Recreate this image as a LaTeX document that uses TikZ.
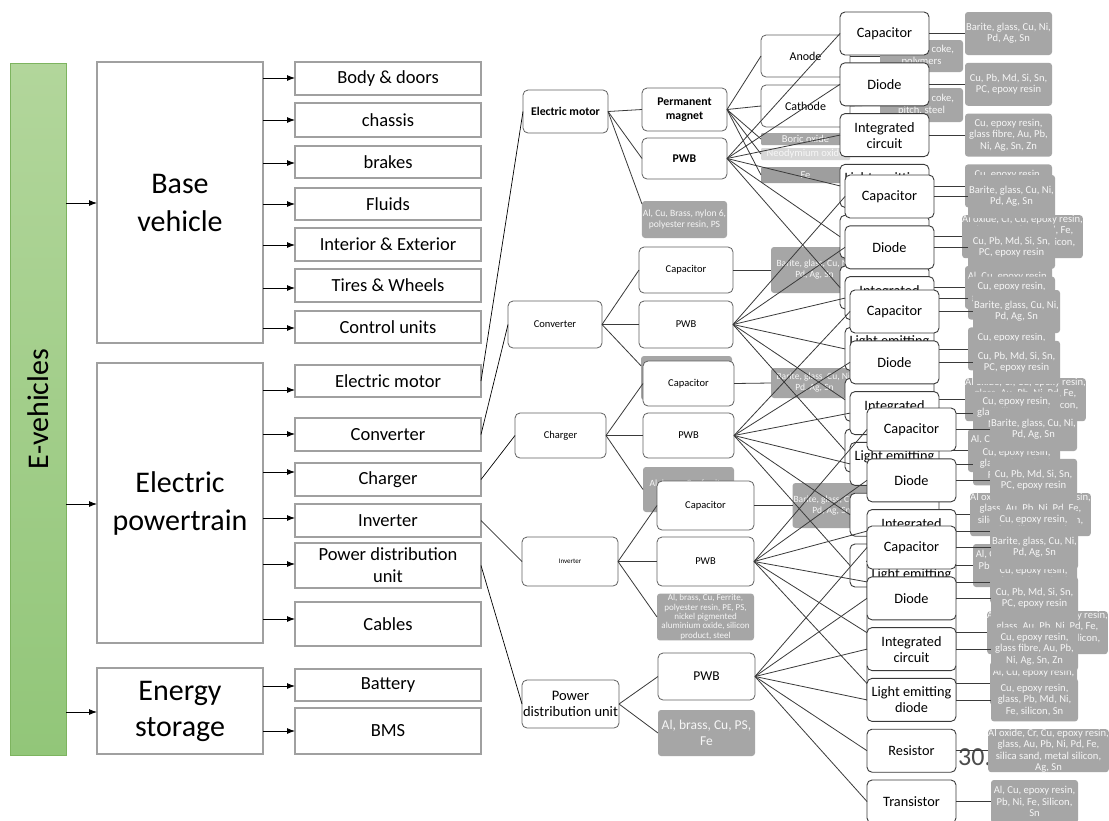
\documentclass[tikz,border=0pt]{standalone}
\usepackage{fontspec}
\setmainfont{Carlito}
\usetikzlibrary{arrows.meta}
\definecolor{bgray}{HTML}{A0A0A0}
\definecolor{mgray}{HTML}{A6A6A6}
\definecolor{ltxt}{HTML}{F6F6F6}
\definecolor{lnc}{HTML}{3A3A3A}
\definecolor{gtop}{HTML}{B2D69B}
\definecolor{gbot}{HTML}{92C679}
\definecolor{gedge}{HTML}{7DB45F}
\tikzset{
 lbox/.style={draw=bgray,line width=1.4pt,fill=white,inner sep=1pt,outer sep=0pt,align=center},
 arr/.style={-{Latex[length=8pt,width=6pt]},line width=0.9pt,black},
 rbox/.style={draw=lnc!80,line width=0.8pt,fill=white,rounded corners=5pt,inner sep=1pt,outer sep=0pt,align=center},
 gbox/.style={fill=mgray,rounded corners=3pt,inner sep=1pt,outer sep=0pt,align=center,text=ltxt},
 comp/.style={draw=lnc,line width=0.9pt,fill=white,rounded corners=5pt,inner sep=1pt,outer sep=0pt,align=center,
   minimum width=89pt,minimum height=43pt,font=\fontsize{14.3}{16}\selectfont},
 mat/.style={fill=mgray,rounded corners=3pt,inner sep=0pt,outer sep=0pt,align=center,text=ltxt,
   minimum height=43pt,font=\fontsize{10.6}{11.2}\selectfont},
 sline/.style={draw=lnc,line width=0.8pt},
 cline/.style={draw=black,line width=0.7pt},
}
\newcommand\mybox[7]{%
 \pgfmathsetmacro\bxw{#5-#3}\pgfmathsetmacro\bxh{#6-#4}%
 \pgfmathsetmacro\bxcx{(#3+#5)/2}\pgfmathsetmacro\bxcy{(#4+#6)/2}%
 \node[#1,minimum width=\bxw pt,minimum height=\bxh pt] (#2) at (\bxcx,\bxcy) {#7};}
\newcommand\compstack[5]{%
 \foreach \i/\c/\m/\w in {0/Capacitor/{Barite, glass, Cu, Ni,\\Pd, Ag, Sn}/87,
   1/Diode/{Cu, Pb, Md, Si, Sn,\\PC, epoxy resin}/87,
   2/{Integrated\\circuit}/{Cu, epoxy resin,\\glass fibre, Au, Pb,\\Ni, Ag, Sn, Zn}/87,
   3/{Light emitting\\diode}/{Cu, epoxy resin,\\glass, Pb, Md, Ni,\\Fe, silicon, Sn}/87,
   4/Resistor/{Al oxide, Cr, Cu, epoxy resin,\\glass, Au, Pb, Ni, Pd, Fe,\\silica sand, metal silicon,\\Ag, Sn}/115,
   5/Transistor/{Al, Cu, epoxy resin,\\Pb, Ni, Fe, Silicon,\\Sn}/87}{%
  \pgfmathsetmacro\cy{#3+21.5+\i*50.8}%
  \pgfmathsetmacro\cx{#2+44.5}%
  \pgfmathsetmacro\mx{#4+\w/2}%
  \node[comp] (#1c\i) at (\cx,\cy) {\c};
  \node[mat,minimum width=\w pt] (#1m\i) at (\mx,\cy) {\m};
  \draw[sline] (#1c\i.east) -- (#1m\i.west);
  \draw[sline] (#5.east) -- (#1c\i.west);
 }}
\begin{document}
\begin{tikzpicture}[x=1pt,y=-1pt]
\useasboundingbox (0,0) rectangle (1109,820);
\clip (0,0) rectangle (1109,820);
\fill[white] (0,0) rectangle (1109,820);

% ---------- left part ----------
\mybox{top color=gtop,bottom color=gbot,draw=gedge,line width=0.6pt,outer sep=0pt,inner sep=0pt}{ev}{10}{63}{66}{755}{}
\node[rotate=90,font=\fontsize{30}{32}\selectfont] (evt) at (ev.center) {E-vehicles};

\mybox{lbox,font=\fontsize{30}{38}\selectfont}{bv}{97}{62}{263}{343}{Base\\vehicle}
\mybox{lbox,font=\fontsize{30}{38}\selectfont}{ep}{97}{363}{263}{643}{Electric\\powertrain}
\mybox{lbox,font=\fontsize{30}{36}\selectfont}{es}{97}{668}{263}{754}{Energy\\storage}

\begin{scope}[every node/.append style={font=\fontsize{18.5}{22}\selectfont}]
\mybox{lbox}{bd}{295}{62}{481}{95}{Body \& doors}
\mybox{lbox}{chs}{295}{103}{481}{137}{chassis}
\mybox{lbox}{brk}{295}{146}{481}{178}{brakes}
\mybox{lbox}{fld}{295}{188}{481}{220}{Fluids}
\mybox{lbox}{ie}{295}{228}{481}{261}{Interior \& Exterior}
\mybox{lbox}{tw}{295}{269}{481}{302}{Tires \& Wheels}
\mybox{lbox}{cu}{295}{311}{481}{343}{Control units}
\mybox{lbox}{em}{295}{365}{481}{397}{Electric motor}
\mybox{lbox}{cv}{295}{418}{481}{451}{Converter}
\mybox{lbox}{cg}{295}{463}{481}{496}{Charger}
\mybox{lbox}{iv}{295}{504}{481}{537}{Inverter}
\mybox{lbox}{pd}{295}{543}{481}{588}{Power distribution\\unit}
\mybox{lbox}{cb}{295}{602}{481}{646}{Cables}
\mybox{lbox}{bt}{295}{669}{481}{701}{Battery}
\mybox{lbox}{bm}{295}{708}{481}{754}{BMS}
\end{scope}

\draw[arr] (ev.east|-0,203) -- (bv.west|-0,203);
\draw[arr] (ev.east|-0,504) -- (ep.west|-0,504);
\draw[arr] (ev.east|-0,712) -- (es.west|-0,712);
\foreach \n/\y in {bd/78,chs/120,brk/163,fld/204,ie/245,tw/288,cu/328}
  \draw[arr] (bv.east|-0,\y) -- (\n.west|-0,\y);
\foreach \n/\y in {em/390,cv/434,cg/472,iv/518,pd/564,cb/619}
  \draw[arr] (ep.east|-0,\y) -- (\n.west|-0,\y);
\foreach \n/\y in {bt/686,bm/731}
  \draw[arr] (es.east|-0,\y) -- (\n.west|-0,\y);

% ---------- second level ----------
\begin{scope}[every node/.append style={font=\fontsize{11.8}{14}\selectfont\bfseries}]
\mybox{rbox}{mo}{523}{90}{608}{133}{Electric motor}
\mybox{rbox}{pm}{642}{88}{727}{131}{Permanent\\magnet}
\mybox{rbox}{mp}{642}{138}{727}{179}{PWB}
\end{scope}
\mybox{gbox,font=\fontsize{9.6}{11}\selectfont}{mg}{642}{201}{727}{238}{Al, Cu, Brass, nylon 6,\\polyester resin, PS}

\mybox{rbox,font=\fontsize{12}{14}\selectfont}{an}{761}{35}{850}{77}{Anode}
\mybox{rbox,font=\fontsize{12}{14}\selectfont}{ca}{761}{85}{850}{127}{Cathode}
\mybox{gbox,font=\fontsize{10.5}{11}\selectfont,rounded corners=1pt}{bo}{761}{133}{850}{145}{Boric oxide}
\mybox{gbox,fill=mgray!45,font=\fontsize{10.5}{11}\selectfont,rounded corners=1pt}{nd}{761}{148}{850}{160}{Neodymium oxide}
\mybox{gbox,fill=mgray!95!black,font=\fontsize{10.5}{11}\selectfont,rounded corners=1pt}{fe}{761}{167}{850}{183}{Fe}
\mybox{gbox,font=\fontsize{10.6}{12}\selectfont}{anm}{880}{40}{963}{72}{Graphite, coke,\\polymers}
\mybox{gbox,font=\fontsize{10.6}{12}\selectfont}{cam}{880}{88}{963}{122}{Graphite, coke,\\pitch, steel}
\draw[sline] (an.east) -- (anm.west);
\draw[sline] (ca.east) -- (cam.west);

\draw[cline] (em.east) -- (mo.west);
\draw[sline] (mo.east) -- (pm.west);
\draw[sline] (mo.east) -- (mp.west);
\draw[sline] (mo.east) -- (mg.160);
\foreach \n in {an,ca,bo,nd,fe} \draw[sline] (pm.east) -- (\n.west);

\begin{scope}[every node/.append style={font=\fontsize{10.5}{12}\selectfont}]
\mybox{rbox}{cv2}{508}{301}{602}{348}{Converter}
\mybox{rbox}{cvc}{639}{247}{733}{293}{Capacitor}
\mybox{rbox}{cvp}{639}{301}{733}{348}{PWB}
\mybox{gbox}{cvg}{641}{356}{732}{400}{}
\mybox{gbox,font=\fontsize{9.5}{11}\selectfont}{cvm}{771}{247}{858}{293}{Barite, glass, Cu, Ni,\\Pd, Ag, Sn}
\mybox{rbox}{cg2}{515}{413}{606}{458}{Charger}
\mybox{rbox}{cgp}{643}{413}{734}{458}{PWB}
\mybox{rbox}{cgc}{643}{361}{734}{406}{Capacitor}
\mybox{gbox,font=\fontsize{9.5}{11}\selectfont}{cgm}{771}{368}{858}{398}{Barite, glass, Cu, Ni,\\Pd, Ag, Sn}
\mybox{gbox,font=\fontsize{9.5}{11}\selectfont}{cgg}{643}{467}{734}{512}{Al, brass, Cu, ferrite,\\polyester resin}
\mybox{rbox,font=\fontsize{7}{8}\selectfont}{iv2}{522}{537}{618}{586}{Inverter}
\mybox{rbox}{ivc}{657}{481}{754}{530}{Capacitor}
\mybox{rbox}{ivp}{657}{537}{754}{586}{PWB}
\mybox{gbox,font=\fontsize{9}{9.3}\selectfont}{ivg}{657}{594}{754}{640}{Al, brass, Cu, Ferrite,\\polyester resin, PE, PS,\\nickel pigmented\\aluminium oxide, silicon\\product, steel}
\mybox{gbox,font=\fontsize{9.5}{11}\selectfont}{ivm}{793}{483}{870}{528}{Barite, glass, Cu, Ni,\\Pd, Ag, Sn}
\end{scope}
\mybox{rbox,font=\fontsize{14.5}{16}\selectfont}{pd2}{522}{680}{619}{728}{Power\\distribution unit}
\mybox{rbox,font=\fontsize{13.5}{15}\selectfont}{pdp}{658}{653}{755}{700}{PWB}
\mybox{gbox,font=\fontsize{13.5}{16}\selectfont}{pdg}{658}{710}{755}{756}{Al, brass, Cu, PS,\\Fe}

\draw[cline] (cv.east) -- (cv2.west);
\draw[cline] (cg.east) -- (cg2.west);
\draw[cline] (iv.east) -- (iv2.west);
\draw[cline] (pd.east) -- (pd2.west);
\foreach \p/\a in {cv2/cvc,cv2/cvp,cg2/cgc,cg2/cgp,iv2/ivc,iv2/ivp,pd2/pdp}
  \draw[sline] (\p.east) -- (\a.west);
\draw[sline] (cv2.east) -- (cvg.165);
\draw[sline] (cg2.east) -- (cgg.west);
\draw[sline] (iv2.east) -- (ivg.west);
\draw[sline] (pd2.east) -- (pdg.west);
\draw[sline] (cvc.east) -- (cvm.west);
\draw[sline] (cgc.east) -- (cgm.west);
\draw[sline] (ivc.east) -- (ivm.west);

\node[anchor=west,inner sep=0pt,text=black!70,font=\fontsize{26}{28}\selectfont] (pgno) at (958,757) {30.};

% ---------- component stacks ----------
\compstack{sa}{840}{12}{965}{mp}
\compstack{sb}{845}{175}{968}{cvp}
\compstack{sc}{850}{290}{973}{cgp}
\compstack{sd}{867}{408}{990}{ivp}
\compstack{se}{867}{526}{991}{pdp}
\end{tikzpicture}
\end{document}
